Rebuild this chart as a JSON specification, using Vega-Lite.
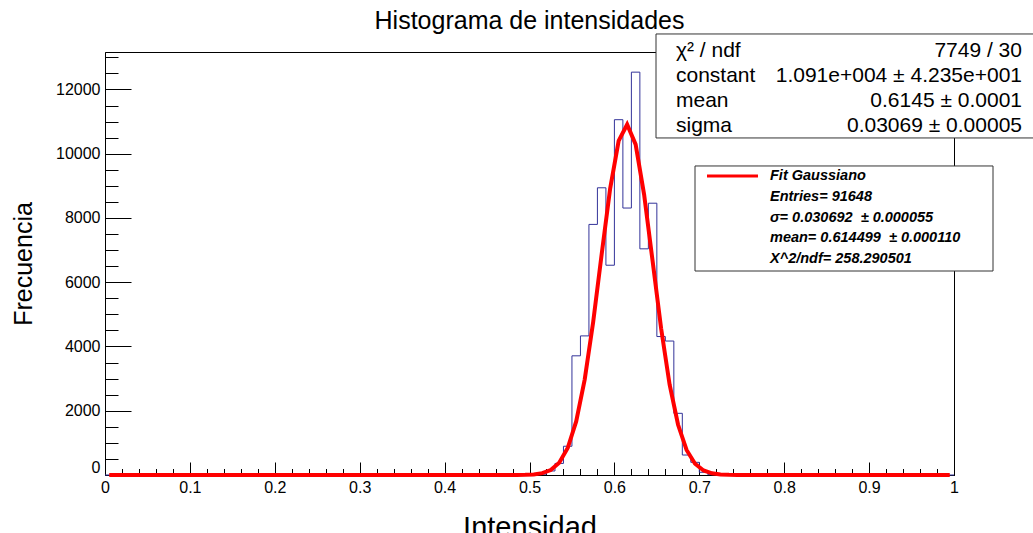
{
  "$schema": "https://vega.github.io/schema/vega-lite/v6.json",
  "width": 849,
  "height": 423,
  "autosize": "none",
  "padding": {"left": 105, "top": 52, "right": 79, "bottom": 58},
  "background": "white",
  "config": {
    "font": "Liberation Sans",
    "view": {"stroke": "#000000", "strokeWidth": 1},
    "axis": {"grid": false, "tickColor": "#000000", "domainColor": "#000000", "labelColor": "#000000", "titleColor": "#000000", "labelFont": "Liberation Sans", "titleFont": "Liberation Sans"}
  },
  "title": {
    "text": "Histograma de intensidades",
    "font": "Liberation Sans",
    "fontSize": 25,
    "fontWeight": "normal",
    "color": "#000000",
    "anchor": "middle",
    "baseline": "alphabetic",
    "offset": -21
  },
  "datasets": {
    "hist": [
      {"lo": 0.00, "n": 0}, {"lo": 0.01, "n": 0}, {"lo": 0.02, "n": 0}, {"lo": 0.03, "n": 0}, {"lo": 0.04, "n": 0},
      {"lo": 0.05, "n": 0}, {"lo": 0.06, "n": 0}, {"lo": 0.07, "n": 0}, {"lo": 0.08, "n": 0}, {"lo": 0.09, "n": 0},
      {"lo": 0.10, "n": 0}, {"lo": 0.11, "n": 0}, {"lo": 0.12, "n": 0}, {"lo": 0.13, "n": 0}, {"lo": 0.14, "n": 0},
      {"lo": 0.15, "n": 0}, {"lo": 0.16, "n": 0}, {"lo": 0.17, "n": 0}, {"lo": 0.18, "n": 0}, {"lo": 0.19, "n": 0},
      {"lo": 0.20, "n": 0}, {"lo": 0.21, "n": 0}, {"lo": 0.22, "n": 0}, {"lo": 0.23, "n": 0}, {"lo": 0.24, "n": 0},
      {"lo": 0.25, "n": 0}, {"lo": 0.26, "n": 0}, {"lo": 0.27, "n": 0}, {"lo": 0.28, "n": 0}, {"lo": 0.29, "n": 0},
      {"lo": 0.30, "n": 0}, {"lo": 0.31, "n": 0}, {"lo": 0.32, "n": 0}, {"lo": 0.33, "n": 0}, {"lo": 0.34, "n": 0},
      {"lo": 0.35, "n": 0}, {"lo": 0.36, "n": 0}, {"lo": 0.37, "n": 0}, {"lo": 0.38, "n": 0}, {"lo": 0.39, "n": 0},
      {"lo": 0.40, "n": 0}, {"lo": 0.41, "n": 0}, {"lo": 0.42, "n": 0}, {"lo": 0.43, "n": 0}, {"lo": 0.44, "n": 0},
      {"lo": 0.45, "n": 0}, {"lo": 0.46, "n": 0}, {"lo": 0.47, "n": 0}, {"lo": 0.48, "n": 0}, {"lo": 0.49, "n": 3},
      {"lo": 0.50, "n": 5}, {"lo": 0.51, "n": 25}, {"lo": 0.52, "n": 125}, {"lo": 0.53, "n": 360}, {"lo": 0.54, "n": 895},
      {"lo": 0.55, "n": 3710}, {"lo": 0.56, "n": 4330}, {"lo": 0.57, "n": 7800}, {"lo": 0.58, "n": 8940}, {"lo": 0.59, "n": 6530},
      {"lo": 0.60, "n": 11060}, {"lo": 0.61, "n": 8310}, {"lo": 0.62, "n": 12540}, {"lo": 0.63, "n": 7040}, {"lo": 0.64, "n": 8460},
      {"lo": 0.65, "n": 4310}, {"lo": 0.66, "n": 4170}, {"lo": 0.67, "n": 1920}, {"lo": 0.68, "n": 622}, {"lo": 0.69, "n": 394},
      {"lo": 0.70, "n": 85}, {"lo": 0.71, "n": 12}, {"lo": 0.72, "n": 5}, {"lo": 0.73, "n": 0}, {"lo": 0.74, "n": 0},
      {"lo": 0.75, "n": 0}, {"lo": 0.76, "n": 0}, {"lo": 0.77, "n": 0}, {"lo": 0.78, "n": 0}, {"lo": 0.79, "n": 0},
      {"lo": 0.80, "n": 0}, {"lo": 0.81, "n": 0}, {"lo": 0.82, "n": 0}, {"lo": 0.83, "n": 0}, {"lo": 0.84, "n": 0},
      {"lo": 0.85, "n": 0}, {"lo": 0.86, "n": 0}, {"lo": 0.87, "n": 0}, {"lo": 0.88, "n": 0}, {"lo": 0.89, "n": 0},
      {"lo": 0.90, "n": 0}, {"lo": 0.91, "n": 0}, {"lo": 0.92, "n": 0}, {"lo": 0.93, "n": 0}, {"lo": 0.94, "n": 0},
      {"lo": 0.95, "n": 0}, {"lo": 0.96, "n": 0}, {"lo": 0.97, "n": 0}, {"lo": 0.98, "n": 0}, {"lo": 0.99, "n": 0},
      {"lo": 1.00, "n": 0}
    ],
    "fit": [
      {"x": 0.005, "f": 0}, {"x": 0.475, "f": 0.36}, {"x": 0.485, "f": 1.5}, {"x": 0.495, "f": 5.6},
      {"x": 0.505, "f": 18.8}, {"x": 0.515, "f": 56.9}, {"x": 0.525, "f": 155}, {"x": 0.535, "f": 381},
      {"x": 0.545, "f": 840}, {"x": 0.555, "f": 1666}, {"x": 0.565, "f": 2971}, {"x": 0.575, "f": 4765},
      {"x": 0.585, "f": 6873}, {"x": 0.595, "f": 8916}, {"x": 0.605, "f": 10400}, {"x": 0.615, "f": 10909},
      {"x": 0.625, "f": 10290}, {"x": 0.635, "f": 8729}, {"x": 0.645, "f": 6658}, {"x": 0.655, "f": 4567},
      {"x": 0.665, "f": 2818}, {"x": 0.675, "f": 1563}, {"x": 0.685, "f": 780}, {"x": 0.695, "f": 350},
      {"x": 0.705, "f": 141}, {"x": 0.715, "f": 51.2}, {"x": 0.725, "f": 16.7}, {"x": 0.735, "f": 4.9},
      {"x": 0.745, "f": 1.3}, {"x": 0.755, "f": 0.31}, {"x": 0.995, "f": 0}
    ]
  },
  "layer": [
    {
      "data": {"name": "hist"},
      "mark": {"type": "line", "interpolate": "step-after", "color": "#333399", "strokeWidth": 1},
      "encoding": {
        "x": {
          "field": "lo", "type": "quantitative",
          "scale": {"domain": [0, 1], "nice": false, "zero": false},
          "axis": {
            "orient": "bottom",
            "values": [0, 0.1, 0.2, 0.3, 0.4, 0.5, 0.6, 0.7, 0.8, 0.9, 1],
            "format": "~g",
            "tickSize": -13,
            "labelPadding": 17.5,
            "labelFontSize": 16,
            "labelFlush": false,
            "labelOverlap": false,
            "title": "Intensidad",
            "titleFontSize": 29,
            "titleFontWeight": "normal",
            "titlePadding": 18
          }
        },
        "y": {
          "field": "n", "type": "quantitative",
          "scale": {"domain": [0, 13167], "nice": false},
          "axis": {
            "orient": "left",
            "values": [0, 2000, 4000, 6000, 8000, 10000, 12000],
            "format": "d",
            "tickSize": -26,
            "labelPadding": 31,
            "labelFontSize": 16,
            "labelFlush": true,
            "labelOverlap": false,
            "title": "Frecuencia",
            "titleFontSize": 25,
            "titleFontWeight": "normal",
            "titlePadding": 19
          }
        }
      }
    },
    {
      "data": {"name": "fit"},
      "mark": {"type": "line", "color": "#ff0000", "strokeWidth": 4},
      "encoding": {
        "x": {
          "field": "x", "type": "quantitative",
          "scale": {"domain": [0, 1], "nice": false, "zero": false},
          "axis": {
            "orient": "bottom",
            "values": [0, 0.02, 0.04, 0.06, 0.08, 0.1, 0.12, 0.14, 0.16, 0.18, 0.2, 0.22, 0.24, 0.26, 0.28, 0.3, 0.32, 0.34, 0.36, 0.38, 0.4, 0.42, 0.44, 0.46, 0.48, 0.5, 0.52, 0.54, 0.56, 0.58, 0.6, 0.62, 0.64, 0.66, 0.68, 0.7, 0.72, 0.74, 0.76, 0.78, 0.8, 0.82, 0.84, 0.86, 0.88, 0.9, 0.92, 0.94, 0.96, 0.98, 1],
            "tickSize": -6.5,
            "labels": false,
            "domain": false,
            "title": null
          }
        },
        "y": {
          "field": "f", "type": "quantitative",
          "scale": {"domain": [0, 13167], "nice": false},
          "axis": {
            "orient": "left",
            "values": [0, 500, 1000, 1500, 2000, 2500, 3000, 3500, 4000, 4500, 5000, 5500, 6000, 6500, 7000, 7500, 8000, 8500, 9000, 9500, 10000, 10500, 11000, 11500, 12000, 12500, 13000],
            "tickSize": -13,
            "labels": false,
            "domain": false,
            "title": null
          }
        }
      }
    },
    {
      "data": {"values": [{}]},
      "mark": {"type": "rect", "fill": "#ffffff", "stroke": "#333333", "strokeWidth": 1},
      "encoding": {
        "x": {"datum": 0.649, "type": "quantitative", "scale": {"domain": [0, 1], "nice": false, "zero": false}, "axis": null},
        "x2": {"datum": 1.12},
        "y": {"datum": 10491, "type": "quantitative", "scale": {"domain": [0, 13167], "nice": false}, "axis": null},
        "y2": {"datum": 13728}
      }
    },
    {
      "data": {"values": [{}]},
      "mark": {"type": "text", "align": "left", "baseline": "middle", "fontSize": 21, "lineHeight": 25, "font": "Liberation Sans", "color": "#000000"},
      "encoding": {
        "x": {"datum": 0.67255, "type": "quantitative", "scale": {"domain": [0, 1], "nice": false, "zero": false}, "axis": null},
        "y": {"datum": 13198, "type": "quantitative", "scale": {"domain": [0, 13167], "nice": false}, "axis": null},
        "text": {"value": ["χ² / ndf", "constant", "mean", "sigma"]}
      }
    },
    {
      "data": {"values": [{}]},
      "mark": {"type": "text", "align": "right", "baseline": "middle", "fontSize": 21, "lineHeight": 25, "font": "Liberation Sans", "color": "#000000"},
      "encoding": {
        "x": {"datum": 1.08009, "type": "quantitative", "scale": {"domain": [0, 1], "nice": false, "zero": false}, "axis": null},
        "y": {"datum": 13198, "type": "quantitative", "scale": {"domain": [0, 13167], "nice": false}, "axis": null},
        "text": {"value": ["7749 / 30", "1.091e+004 ± 4.235e+001", "0.6145 ± 0.0001", "0.03069 ± 0.00005"]}
      }
    },
    {
      "data": {"values": [{}]},
      "mark": {"type": "rect", "fill": "#ffffff", "stroke": "#333333", "strokeWidth": 1},
      "encoding": {
        "x": {"datum": 0.69494, "type": "quantitative", "scale": {"domain": [0, 1], "nice": false, "zero": false}, "axis": null},
        "x2": {"datum": 1.04594},
        "y": {"datum": 6350, "type": "quantitative", "scale": {"domain": [0, 13167], "nice": false}, "axis": null},
        "y2": {"datum": 9619}
      }
    },
    {
      "data": {"values": [{}]},
      "mark": {"type": "rule", "color": "#ff0000", "strokeWidth": 3},
      "encoding": {
        "x": {"datum": 0.70907, "type": "quantitative", "scale": {"domain": [0, 1], "nice": false, "zero": false}, "axis": null},
        "x2": {"datum": 0.76914},
        "y": {"datum": 9307, "type": "quantitative", "scale": {"domain": [0, 13167], "nice": false}, "axis": null}
      }
    },
    {
      "data": {"values": [{}]},
      "mark": {"type": "text", "align": "left", "baseline": "middle", "fontSize": 14.5, "fontStyle": "italic", "fontWeight": "bold", "lineHeight": 20.8, "font": "Liberation Sans", "color": "#000000"},
      "encoding": {
        "x": {"datum": 0.78327, "type": "quantitative", "scale": {"domain": [0, 1], "nice": false, "zero": false}, "axis": null},
        "y": {"datum": 9307, "type": "quantitative", "scale": {"domain": [0, 13167], "nice": false}, "axis": null},
        "text": {"value": ["Fit Gaussiano", "Entries= 91648", "σ= 0.030692 \u00a0± 0.000055", "mean= 0.614499 \u00a0± 0.000110", "Χ^2/ndf= 258.290501"]}
      }
    }
  ],
  "resolve": {"axis": {"x": "independent", "y": "independent"}}
}
